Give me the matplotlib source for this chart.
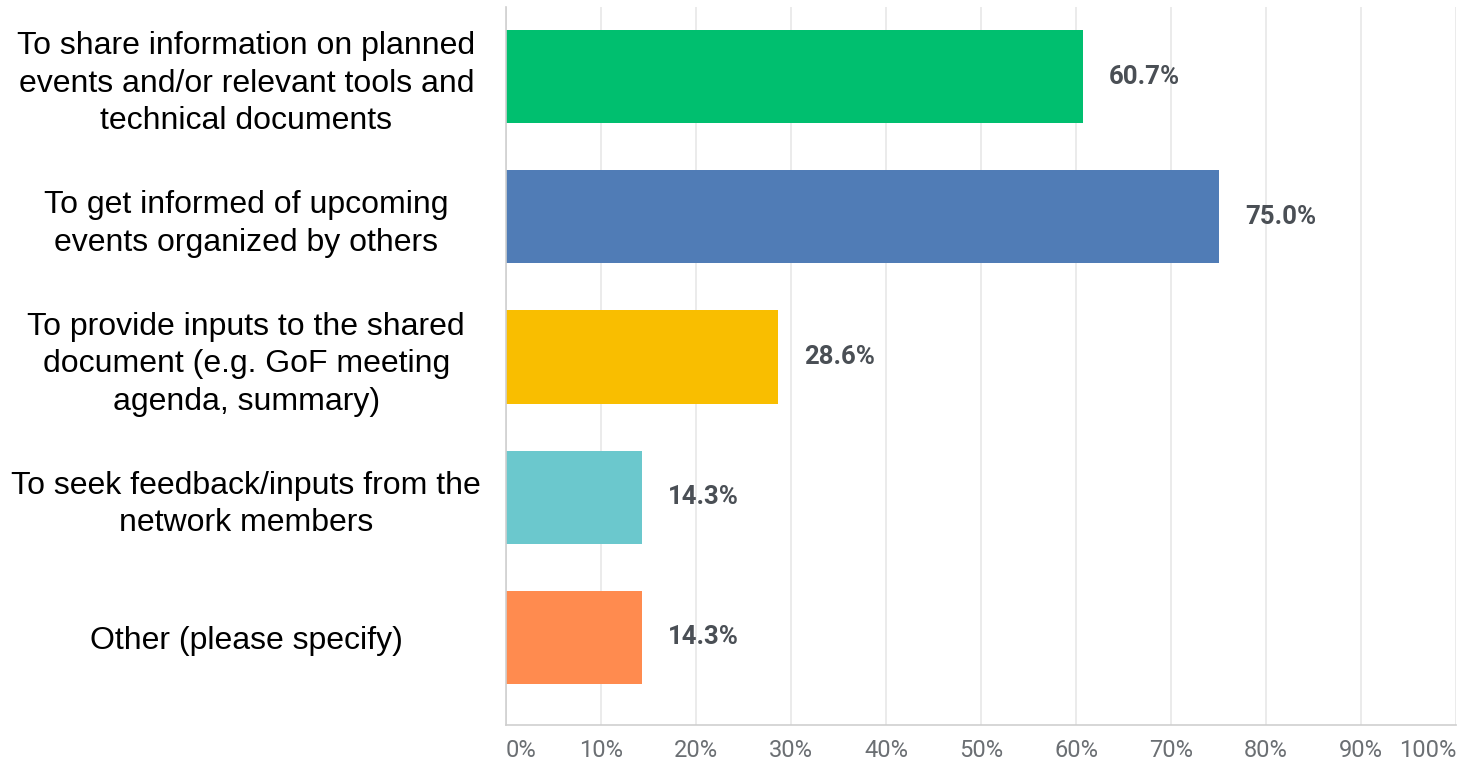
"""Horizontal bar chart of survey responses."""

import matplotlib

matplotlib.use("Agg")
import matplotlib.pyplot as plt

categories = [
    "To share information on planned\nevents and/or relevant tools and\ntechnical documents",
    "To get informed of upcoming\nevents organized by others",
    "To provide inputs to the shared\ndocument (e.g. GoF meeting\nagenda, summary)",
    "To seek feedback/inputs from the\nnetwork members",
    "Other (please specify)",
]
values = [60.7, 75.0, 28.6, 14.3, 14.3]
colors = ["#00bf6f", "#507cb6", "#f9be00", "#6bc8cd", "#ff8b4f"]
ticks = [0, 10, 20, 30, 40, 50, 60, 70, 80, 90, 100]
tick_labels = [f"{t}%" for t in ticks]

fig = plt.figure(figsize=(14.62, 7.61), dpi=100)
ax = fig.add_axes([506 / 1462, 1 - 725 / 761, 950 / 1462, 718 / 761])

ypos = list(range(len(categories)))
ax.barh(ypos, values, height=0.665, color=colors, zorder=2)

for y, v in zip(ypos, values):
    ax.annotate(f"{v:.1f}%", xy=(v, y), xytext=(19, 0), textcoords="offset points",
                ha="left", va="center", fontsize=18.5, fontweight="bold",
                family="Roboto", color="#4a4f55")

ax.set_xlim(0, 100)
ax.set_ylim(4.625, -0.496)

ax.set_yticks(ypos)
ax.set_yticklabels(categories, family="Liberation Sans", fontsize=23,
                   ha="center", multialignment="center", linespacing=1.33,
                   color="black")
ax.tick_params(axis="y", length=0, pad=187)

ax.set_xticks(ticks)
ax.set_xticklabels(tick_labels, family="Roboto", fontsize=17, color="#6b6f73")
ax.tick_params(axis="x", length=0, pad=10)
lbls = ax.get_xticklabels()
lbls[0].set_ha("left")
lbls[-1].set_ha("right")

ax.grid(axis="x", color="#e8e8e8", linewidth=1.2, zorder=0)
for side in ["top", "right"]:
    ax.spines[side].set_visible(False)
ax.spines["left"].set_color("#cfcfcf")
ax.spines["bottom"].set_color("#cfcfcf")
ax.spines["left"].set_linewidth(1.2)
ax.spines["bottom"].set_linewidth(1.2)

fig.savefig("out.png", dpi=100)
plt.close(fig)
